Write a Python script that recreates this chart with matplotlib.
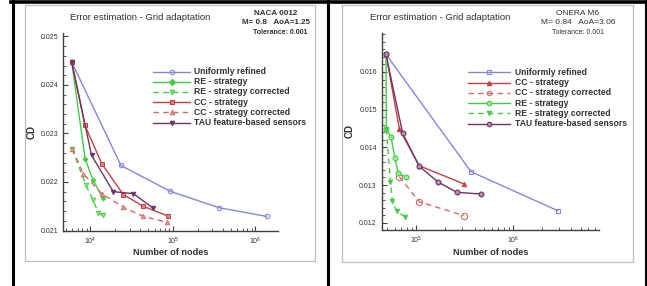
import matplotlib
matplotlib.use("Agg")
import matplotlib.pyplot as plt
from matplotlib.lines import Line2D
from matplotlib.patches import Rectangle
from matplotlib.ticker import LogLocator, MultipleLocator, FixedLocator, NullFormatter

plt.rcParams['font.family'] = ['Liberation Sans', 'DejaVu Sans']

# ---- NACA 0012 (left) ----
nodes_l_uni = [5930, 23400, 92000, 361000, 1370000]
cd_l_uni = [0.02447, 0.02234, 0.02181, 0.02147, 0.02129]
nodes_l_re = [5930, 8610, 10670, 14130]
cd_l_re = [0.02447, 0.02248, 0.02205, 0.02167]
nodes_l_rec = [6010, 8820, 10720, 12500, 14180]
cd_l_rec = [0.02268, 0.02193, 0.02163, 0.02136, 0.02131]
nodes_l_cc = [5930, 8580, 13670, 25000, 43600, 86300]
cd_l_cc = [0.02447, 0.023165, 0.02238, 0.02174, 0.02150, 0.02130]
nodes_l_ccc = [6010, 8180, 13670, 25000, 43600, 83900]
cd_l_ccc = [0.02268, 0.02217, 0.02176, 0.02148, 0.02129, 0.02117]
nodes_l_tau = [5930, 10300, 18900, 33000, 57700]
cd_l_tau = [0.02447, 0.02255, 0.02180, 0.02176, 0.02146]

# ---- ONERA M6 (right) ----
nodes_r_uni = [48600, 368000, 2900000]
cd_r_uni = [0.016467, 0.013353, 0.012318]
nodes_r_cc = [48600, 66800, 107000, 313000]
cd_r_cc = [0.016467, 0.014485, 0.013512, 0.013026]
nodes_r_ccc = [66800, 107000, 313000]
cd_r_ccc = [0.01322, 0.012557, 0.012186]
nodes_r_re = [48600, 49000, 54700, 60200, 65200, 77600]
cd_r_re = [0.016467, 0.01448, 0.01428, 0.01371, 0.01331, 0.01322]
nodes_r_rec = [49000, 54000, 56700, 62700, 76900]
cd_r_rec = [0.01448, 0.01307, 0.01257, 0.0123, 0.01215]
nodes_r_tau = [48600, 72300, 107000, 166000, 262000, 467000]
cd_r_tau = [0.016467, 0.014371, 0.01350, 0.013088, 0.012806, 0.012761]

W, H = 647, 286
fig = plt.figure(figsize=(W/100, H/100), dpi=100)

def fx(x): return x / W
def fy(y): return 1 - y / H

BLUE = '#8585e0'
GREEN = '#44cc44'
RED = '#c44040'
RED2 = '#d06a6a'
PURP = '#6e3466'
TXT = '#303030'

# table borders and chart frames
for x in [12.5, 328.5, 645.5]:
    fig.add_artist(Line2D([fx(x), fx(x)], [0, 1], color='black', lw=2.2))
fig.add_artist(Line2D([fx(11), 1], [fy(1.8), fy(1.8)], color='black', lw=2.6))
fig.add_artist(Rectangle((fx(25), fy(261)), fx(315) - fx(25), fy(5) - fy(261),
                         fill=False, ec='#bdbdbd', lw=0.9))
fig.add_artist(Rectangle((fx(342), fy(262)), fx(633) - fx(342), fy(5) - fy(262),
                         fill=False, ec='#bdbdbd', lw=0.9))

def make_axes(x0, x1, y0, y1):
    ax = fig.add_axes([fx(x0), fy(y1), fx(x1) - fx(x0), fy(y0) - fy(y1)])
    ax.set_xscale('log')
    for s in ['top', 'right']:
        ax.spines[s].set_visible(False)
    for s in ['left', 'bottom']:
        ax.spines[s].set_color('#404040')
        ax.spines[s].set_linewidth(1.0)
    ax.tick_params(which='both', direction='in', colors='#404040', labelcolor=TXT, labelsize=5)
    ax.tick_params(which='major', length=3.5, width=0.8)
    ax.tick_params(which='minor', length=2, width=0.6)
    ax.xaxis.set_major_locator(LogLocator(base=10))
    ax.xaxis.set_minor_locator(LogLocator(base=10, subs=range(2, 10)))
    ax.xaxis.set_minor_formatter(NullFormatter())
    ax.yaxis.set_minor_locator(MultipleLocator(0.0002))
    ax.patch.set_alpha(0)
    ax.set_xlabel('Number of nodes', fontsize=6.6, fontweight='bold', color=TXT, labelpad=1)
    ax.set_ylabel('CD', fontsize=7, fontweight='bold', color=TXT, labelpad=3)
    return ax

def legend(rows, xl0, xl1, xt, ys):
    for (lab, col, ls, mk, mfc), y in zip(rows, ys):
        fig.add_artist(Line2D([fx(xl0), fx(xl1)], [fy(y), fy(y)], color=col, lw=1.0, ls=ls))
        fig.add_artist(Line2D([fx((xl0 + xl1) / 2)], [fy(y)], color=col, marker=mk, ms=3.2,
                              mfc=mfc, mec=col, mew=0.8, ls='none'))
        fig.text(fx(xt), fy(y), lab, fontsize=6.2, fontweight='bold', color=TXT, va='center', ha='left')

dash = (0, (4, 3))

# ---------- left chart ----------
axl = make_axes(63, 278, 33, 230.5)
axl.plot(nodes_l_uni, cd_l_uni, color=BLUE, lw=1, marker='o', ms=3.2, mfc='none', mew=0.8)
axl.plot(nodes_l_re, cd_l_re, color=GREEN, lw=1, marker='D', ms=2.5, mfc=GREEN, mew=0.6)
axl.plot(nodes_l_rec, cd_l_rec, color=GREEN, lw=1, ls=dash, marker='v', ms=3.2, mfc='#a0e8a0', mew=0.7)
axl.plot(nodes_l_cc, cd_l_cc, color=RED, lw=1, marker='s', ms=2.8, mfc='#e08080', mew=0.7)
axl.plot(nodes_l_ccc, cd_l_ccc, color=RED2, lw=1, ls=dash, marker='^', ms=3.2, mfc='#e8a0a0', mew=0.7)
axl.plot(nodes_l_tau, cd_l_tau, color=PURP, lw=1, marker='v', ms=3.2, mfc=PURP, mew=0.7)
axl.set_xlim(10**3.667, 10**6.273)
axl.set_ylim(0.021, 0.02507)
axl.yaxis.set_major_locator(FixedLocator([0.021, 0.022, 0.023, 0.024, 0.025]))
axl.set_yticklabels(['0.021', '0.022', '0.023', '0.024', '0.025'])

fig.text(fx(140), fy(17), 'Error estimation - Grid adaptation', fontsize=6.8, color=TXT, ha='center', va='center')
fig.text(fx(276), fy(13.5), 'NACA 0012', fontsize=5.8, fontweight='bold', color=TXT, ha='center', va='center')
fig.text(fx(276), fy(22.5), 'M= 0.8   AoA=1.25', fontsize=5.8, fontweight='bold', color=TXT, ha='center', va='center')
fig.text(fx(280), fy(33), 'Tolerance: 0.001', fontsize=5, fontweight='bold', color=TXT, ha='center', va='center')

legend([('Uniformly refined', BLUE, '-', 'o', 'none'),
        ('RE - strategy', GREEN, '-', 'D', GREEN),
        ('RE - strategy corrected', GREEN, dash, 'v', '#a0e8a0'),
        ('CC - strategy', RED, '-', 's', '#e08080'),
        ('CC - strategy corrected', RED2, dash, '^', '#e8a0a0'),
        ('TAU feature-based sensors', PURP, '-', 'v', PURP)],
       153, 190, 194, [71.7, 81.8, 92.0, 102.2, 112.4, 122.6])

# ---------- right chart ----------
axr = make_axes(381.7, 599.3, 33, 230)
axr.plot(nodes_r_uni, cd_r_uni, color=BLUE, lw=1, marker='s', ms=2.8, mfc='none', mew=0.8)
axr.plot(nodes_r_cc, cd_r_cc, color=RED, lw=1, marker='^', ms=3.2, mfc=RED, mew=0.7)
axr.plot(nodes_r_ccc, cd_r_ccc, color=RED2, lw=1, ls=dash, marker='o', ms=4.5, mfc='none', mew=0.8)
axr.plot(nodes_r_re, cd_r_re, color=GREEN, lw=1, marker='o', ms=3.5, mfc='#a0e8a0', mew=0.8)
axr.plot(nodes_r_rec, cd_r_rec, color=GREEN, lw=1, ls=dash, marker='v', ms=3.2, mfc=GREEN, mew=0.7)
axr.plot(nodes_r_tau, cd_r_tau, color=PURP, lw=1, marker='o', ms=3.5, mfc='#b090b0', mew=0.8)
axr.set_xlim(10**4.642, 10**6.892)
axr.set_ylim(0.011806, 0.017035)
axr.yaxis.set_major_locator(FixedLocator([0.012, 0.013, 0.014, 0.015, 0.016]))
axr.set_yticklabels(['0.012', '0.013', '0.014', '0.015', '0.016'])

fig.text(fx(440), fy(17), 'Error estimation - Grid adaptation', fontsize=6.8, color=TXT, ha='center', va='center')
fig.text(fx(578), fy(13.5), 'ONERA M6', fontsize=6, color=TXT, ha='center', va='center')
fig.text(fx(578), fy(22.5), 'M= 0.84   AoA=3.06', fontsize=6, color=TXT, ha='center', va='center')
fig.text(fx(578), fy(33), 'Tolerance: 0.001', fontsize=5, color=TXT, ha='center', va='center')

legend([('Uniformly refined', BLUE, '-', 's', 'none'),
        ('CC - strategy', RED, '-', '^', RED),
        ('CC - strategy corrected', RED2, dash, 'o', 'none'),
        ('RE - strategy', GREEN, '-', 'o', '#a0e8a0'),
        ('RE - strategy corrected', GREEN, dash, 'v', GREEN),
        ('TAU feature-based sensors', PURP, '-', 'o', '#b090b0')],
       468, 510, 515, [72.3, 82.5, 92.8, 103.0, 113.3, 123.5])

fig.savefig('out.png', dpi=100)
